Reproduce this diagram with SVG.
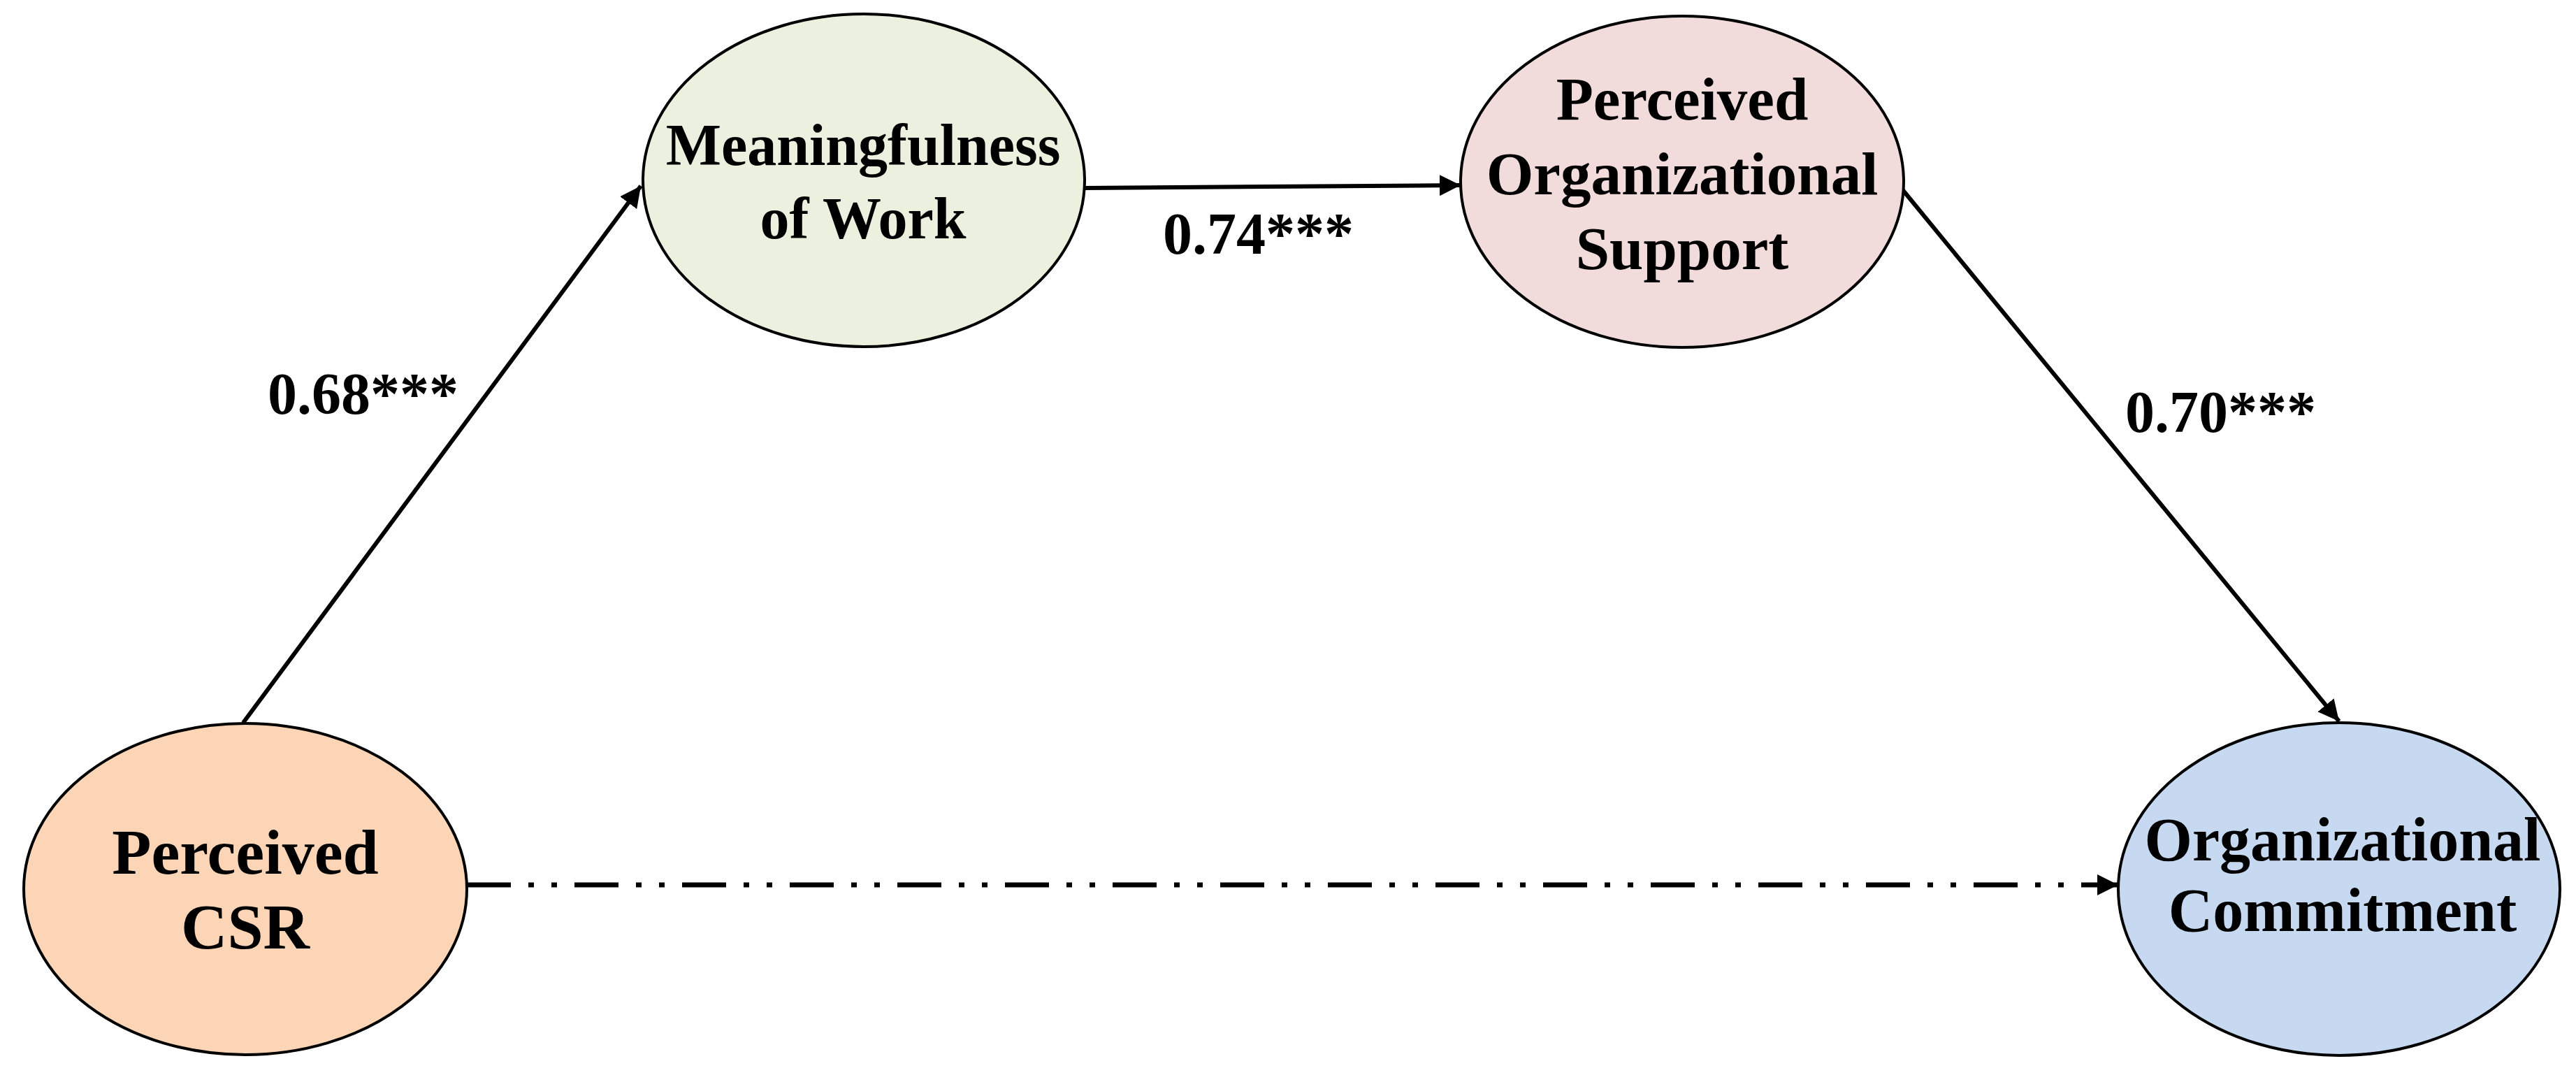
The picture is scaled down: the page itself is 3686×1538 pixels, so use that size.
<svg xmlns="http://www.w3.org/2000/svg" width="3686" height="1538" viewBox="0 0 3686 1538">
<style>
.node { stroke: #000; stroke-width: 4; }
.lbl { font-family: "Liberation Serif", "Times New Roman", serif; font-weight: bold; fill: #000; text-anchor: middle; }
.coef { font-family: "Liberation Serif", "Times New Roman", serif; font-weight: bold; fill: #000; font-size: 84px; }
.edge { stroke: #000; stroke-width: 6; fill: none; }
.dash { stroke: #000; stroke-width: 7; fill: none; stroke-dasharray: 63 25 8 25 8 25; }
</style>
<defs>
<marker id="arr" markerUnits="userSpaceOnUse" markerWidth="32" markerHeight="32" viewBox="0 0 32 32" refX="30" refY="16" orient="auto">
<path d="M0,1 L30,16 L0,31 Z" fill="#000"/>
</marker>
</defs>
<rect width="3686" height="1538" fill="#fff"/>
<g id="connectors">
<line class="edge" x1="348" y1="1034" x2="917" y2="266" marker-end="url(#arr)"/>
<line class="edge" x1="1553" y1="269" x2="2090" y2="265" marker-end="url(#arr)"/>
<line class="edge" x1="2722" y1="271" x2="3347" y2="1032" marker-end="url(#arr)"/>
<line class="dash" x1="668" y1="1266" x2="3031" y2="1266" marker-end="url(#arr)"/>
<text class="coef" x="383" y="592">0.68***</text>
<text class="coef" x="1664" y="363">0.74***</text>
<text class="coef" x="3041" y="618">0.70***</text>
</g>
<g id="node-csr">
<ellipse class="node" cx="351" cy="1272" rx="317" ry="237" fill="#FBD5B5" stroke-width="3"/>
<text class="lbl" x="351" y="1250" font-size="92">Perceived</text>
<text class="lbl" x="351" y="1357" font-size="92">CSR</text>
</g>
<g id="node-meaning">
<ellipse class="node" cx="1236" cy="258" rx="316" ry="238" fill="#EBF1DE"/>
<text class="lbl" x="1235" y="236" font-size="84">Meaningfulness</text>
<text class="lbl" x="1235" y="341" font-size="84">of Work</text>
</g>
<g id="node-pos">
<ellipse class="node" cx="2407" cy="260" rx="317" ry="237" fill="#F2DCDB"/>
<text class="lbl" x="2407" y="171" font-size="87">Perceived</text>
<text class="lbl" x="2407" y="278" font-size="87">Organizational</text>
<text class="lbl" x="2407" y="385" font-size="87">Support</text>
</g>
<g id="node-oc">
<ellipse class="node" cx="3347" cy="1272" rx="316" ry="238" fill="#C6D9F1"/>
<text class="lbl" x="3352" y="1231" font-size="88">Organizational</text>
<text class="lbl" x="3352" y="1332" font-size="88">Commitment</text>
</g>
</svg>
